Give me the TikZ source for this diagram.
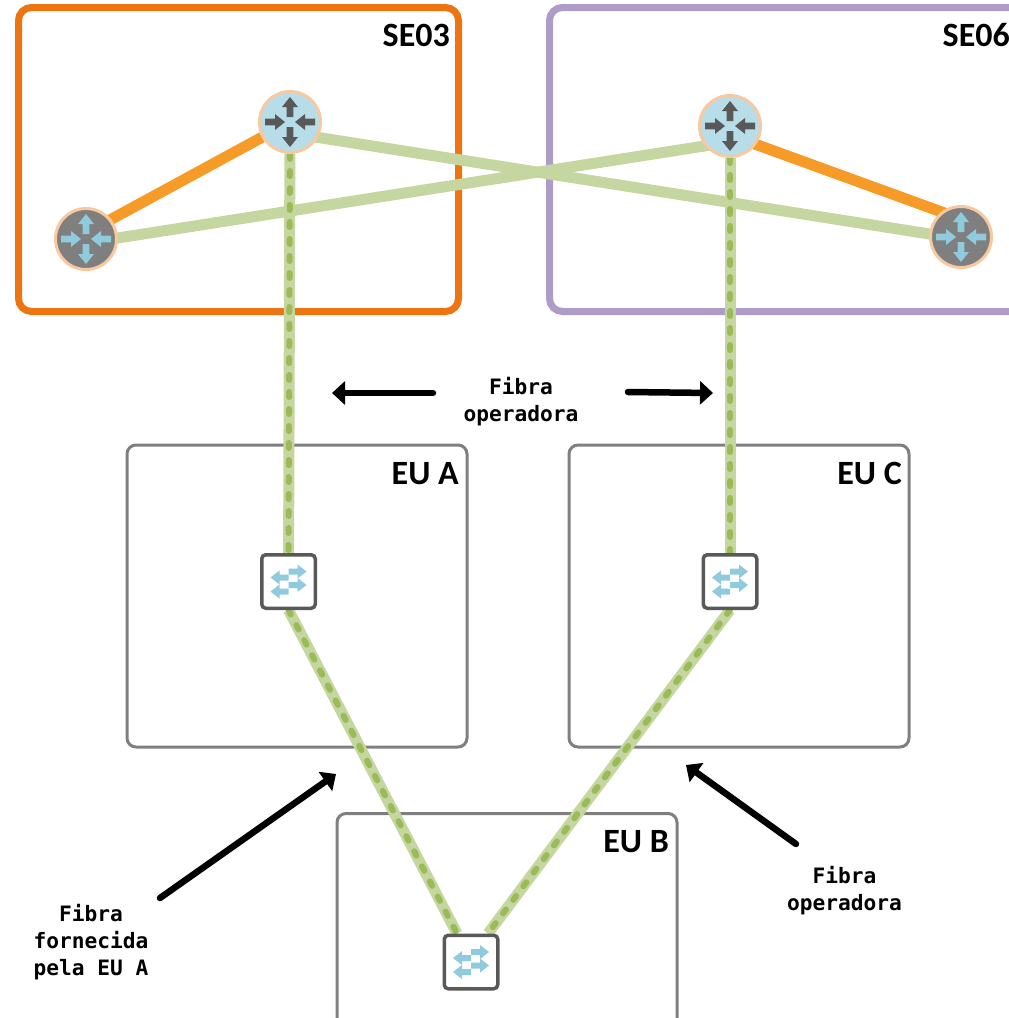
\documentclass[tikz,border=0pt]{standalone}
\usepackage{fontspec}
\setmainfont{Carlito}
\newfontfamily\monob{DejaVu Sans Mono}
\usetikzlibrary{arrows.meta,calc}
\definecolor{seorange}{HTML}{EE7411}
\definecolor{sepurple}{HTML}{AC9CC6}
\definecolor{eugray}{HTML}{7F7F7F}
\definecolor{lnkorange}{HTML}{F79B28}
\definecolor{lnkgreen}{HTML}{C5D6A0}
\definecolor{dashgreen}{HTML}{9BBB59}
\definecolor{rtborder}{HTML}{F8C8A0}
\definecolor{rtlight}{HTML}{B7DDE8}
\definecolor{rtdark}{HTML}{7F7F7F}
\definecolor{icdark}{HTML}{595959}
\definecolor{iclight}{HTML}{8FCBDD}
\pgfdeclarelayer{boxes}
\pgfdeclarelayer{links}
\pgfsetlayers{boxes,links,main}
\tikzset{
  x=1pt,y=-1pt,
  sebox/.style={draw,line width=7pt,rounded corners=13pt,minimum width=440pt,minimum height=304pt,inner sep=0pt},
  eubox/.style={draw=eugray,line width=3pt,rounded corners=9pt,minimum width=340pt,minimum height=302pt,inner sep=0pt},
  router/.style={circle,draw=rtborder,line width=3pt,minimum size=61pt,inner sep=0pt},
  switchbox/.style={draw=icdark,fill=white,line width=3.5pt,rounded corners=4pt,minimum size=53.5pt,inner sep=0pt},
  title/.style={font=\fontsize{34}{36}\selectfont\bfseries,inner sep=0pt,anchor=base east},
  note/.style={font=\monob\fontsize{21.2}{27}\selectfont\bfseries,align=center,inner sep=0pt},
  orangelink/.style={draw=lnkorange,line width=11pt},
  greenlink/.style={draw=lnkgreen,line width=11pt},
  dashlink/.style={draw=dashgreen,line width=6pt,line cap=round,dash pattern=on 5pt off 12pt},
  callout/.style={draw=black,line width=6.5pt,line cap=round,-{Triangle[length=13pt,width=23pt]}},
}
\newcommand{\rtarrow}[4]{\fill[#4,shift={(#1,#2)},rotate=#3] (0,-3.3)--(10,-3.3)--(10,-8)--(20,0)--(10,8)--(10,3.3)--(0,3.3)--cycle;}
\newcommand{\swtarrow}[4]{\fill[#4,shift={(#1,#2)},rotate=#3] (0,-3)--(9,-3)--(9,-7)--(18,0)--(9,7)--(9,3)--(0,3)--cycle;}
\newcommand{\routericon}[3]{%
  \rtarrow{#1}{#2-5}{90}{#3}\rtarrow{#1}{#2+5}{-90}{#3}%
  \rtarrow{#1-25}{#2}{0}{#3}\rtarrow{#1+25}{#2}{180}{#3}}
\newcommand{\switchicon}[2]{%
  \swtarrow{#1}{#2-10}{0}{iclight}\swtarrow{#1}{#2-4}{180}{iclight}%
  \swtarrow{#1}{#2+3.5}{0}{iclight}\swtarrow{#1}{#2+10}{180}{iclight}}
\begin{document}
\begin{tikzpicture}
\useasboundingbox (0,0) rectangle (1009,1018);
% nodes
\node[router,fill=rtlight] (r1) at (290,122) {};
\node[router,fill=rtdark] (r2) at (86,239) {};
\node[router,fill=rtlight] (r3) at (730,126) {};
\node[router,fill=rtdark] (r4) at (961,237) {};
\routericon{290}{122}{icdark}
\routericon{86}{239}{iclight}
\routericon{730}{126}{icdark}
\routericon{961}{237}{iclight}
\node[switchbox] (swa) at (288.5,581.5) {};
\node[switchbox] (swc) at (730,581.5) {};
\node[switchbox] (swb) at (471,962) {};
\switchicon{288.5}{581.5}
\switchicon{730}{581.5}
\switchicon{471}{962}
% labels
\node[title] (t1) at (450,46) {SE03};
\node[title] (t2) at (1010,46) {SE06};
\node[title] (t3) at (459,484) {EU A};
\node[title] (t4) at (902,484) {EU C};
\node[title] (t5) at (669,852) {EU B};
\node[note] (n1) at (521,402) {Fibra\\operadora};
\node[note] (n2) at (844.5,890.5) {Fibra\\operadora};
\node[note] (n3) at (91,942) {Fibra\\fornecida\\pela EU A};
% callouts
\coordinate (c1s) at (433,393); \coordinate (c1e) at (332,393);
\coordinate (c2s) at (628,392); \coordinate (c2e) at (713,393);
\coordinate (c3s) at (160,898); \coordinate (c3e) at (336,774);
\coordinate (c4s) at (796,844); \coordinate (c4e) at (686,765);
\draw[callout] (c1s) -- (c1e);
\draw[callout] (c2s) -- (c2e);
\draw[callout] (c3s) -- (c3e);
\draw[callout] (c4s) -- (c4e);
\begin{pgfonlayer}{boxes}
\node[sebox,draw=seorange] (se03) at (238.5,159.5) {};
\node[sebox,draw=sepurple,anchor=west,minimum width=600pt] (se06) at (546,159.5) {};
\node[eubox] (eua) at (297,596) {};
\node[eubox] (euc) at (739,596) {};
\node[eubox,anchor=north] (eub) at (507,812) {};
\end{pgfonlayer}
\begin{pgfonlayer}{links}
\coordinate (ba) at ($(swb.north)+(-14,0)$);
\coordinate (bc) at ($(swb.north)+(17,0)$);
\coordinate (g1) at ($(r1)+(0,11)$);
\coordinate (g4) at ($(r4)+(0,2)$);
\coordinate (g2) at ($(r2)+(0,4)$);
\coordinate (g3) at ($(r3)+(0,16)$);
\coordinate (o2) at ($(r2)+(0,-6)$);
\coordinate (o3) at ($(r3)+(0,9)$);
\coordinate (o4) at ($(r4)+(0,-18)$);
\draw[orangelink] (r1) -- (o2);
\draw[orangelink] (o3) -- (o4);
\draw[greenlink] (g1) -- (g4);
\draw[greenlink] (g2) -- (g3);
\draw[greenlink] (r1) -- (swa);
\draw[greenlink] (r3) -- (swc);
\draw[greenlink] (swa.south) -- (ba);
\draw[greenlink] (swc.south) -- (bc);
\draw[dashlink] (r1.south) -- (swa.north);
\draw[dashlink] (r3.south) -- (swc.north);
\draw[dashlink] (swa.south) -- (ba);
\draw[dashlink] (swc.south) -- (bc);
\end{pgfonlayer}
\end{tikzpicture}
\end{document}
